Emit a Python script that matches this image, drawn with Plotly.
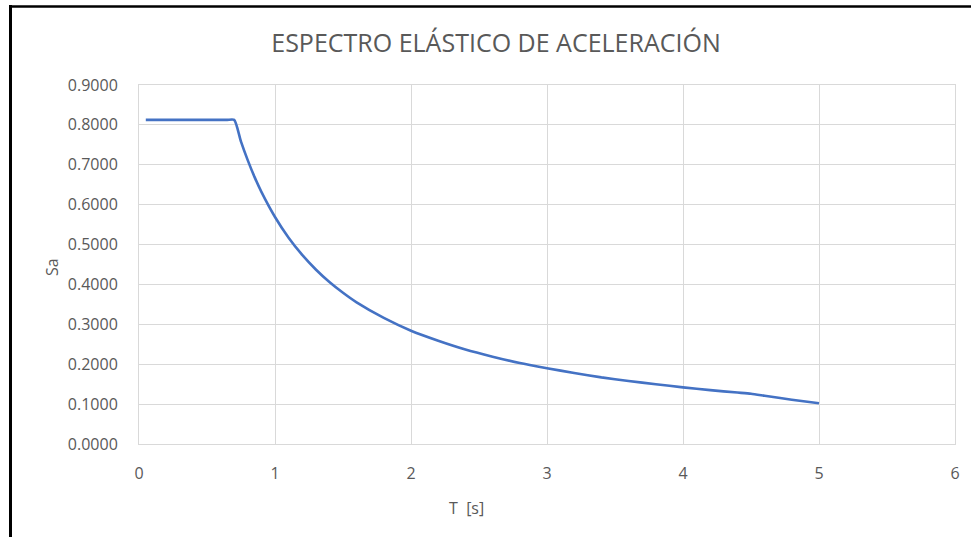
import plotly.graph_objects as go

T_s = [0.05, 0.1, 0.2, 0.3, 0.4, 0.5, 0.6, 0.65, 0.7, 0.75, 0.8, 0.85, 0.9, 1.0, 1.1, 1.2, 1.3,
       1.4, 1.5, 1.6, 1.8, 2.0, 2.2, 2.4, 2.6, 2.8, 3.0, 3.2, 3.4, 3.6, 3.8, 4.0, 4.2, 4.4,
       4.5, 4.6, 4.8, 5.0]
Sa = [0.8125, 0.8125, 0.8125, 0.8125, 0.8125, 0.8125, 0.8125, 0.8125, 0.8125, 0.758, 0.711,
      0.669, 0.632, 0.569, 0.517, 0.474, 0.4375, 0.406, 0.379, 0.355, 0.316, 0.284, 0.259,
      0.237, 0.219, 0.203, 0.190, 0.178, 0.167, 0.158, 0.150, 0.142, 0.135, 0.129, 0.126,
      0.121, 0.111, 0.102]

title_text = "ESPECTRO ELÁSTICO DE ACELERACIÓN"
x_title = "T  [s]"
y_title = "Sa"
x_ticks = [0, 1, 2, 3, 4, 5, 6]
y_ticks = [0.0, 0.1, 0.2, 0.3, 0.4, 0.5, 0.6, 0.7, 0.8, 0.9]

FONT = "Open Sans, Liberation Sans, sans-serif"
GREY = "#595959"
GRID = "#d9d9d9"

fig = go.Figure()
fig.add_trace(go.Scatter(
    x=T_s, y=Sa, mode="lines",
    line=dict(color="#4472C4", width=2.6, shape="spline", smoothing=0.6),
    hoverinfo="x+y", showlegend=False,
))

W, H = 971, 537
L, R, TOP, B = 139, 16, 85, 93
pw, ph = W - L - R, H - TOP - B

def px_to_paper_x(px):
    return (px - L) / pw

def px_to_paper_y(py):
    return (H - B - py) / ph

fig.update_layout(
    width=W, height=H,
    margin=dict(l=L, r=R, t=TOP, b=B, pad=0),
    paper_bgcolor="white", plot_bgcolor="white",
    font=dict(family=FONT, color=GREY),
    title=dict(text=title_text, x=496 / W, xref="container", xanchor="center",
               y=1 - 43 / H, yref="container", yanchor="middle",
               font=dict(size=25, color=GREY, family=FONT)),
    xaxis=dict(range=[0, 6], tickvals=x_ticks, ticktext=[str(v) for v in x_ticks],
               showgrid=True, gridcolor=GRID, gridwidth=1, zeroline=False,
               showline=True, linecolor=GRID, linewidth=1, mirror=True,
               ticks="", ticklabelstandoff=15, tickfont=dict(size=16, color=GREY, family=FONT)),
    yaxis=dict(range=[0, 0.9], tickvals=y_ticks, ticktext=[f"{v:.4f}" for v in y_ticks],
               showgrid=True, gridcolor=GRID, gridwidth=1, zeroline=False,
               showline=True, linecolor=GRID, linewidth=1, mirror=True,
               ticks="", ticklabelstandoff=17, tickfont=dict(size=16, color=GREY, family=FONT)),
    annotations=[
        dict(text=x_title, xref="paper", yref="paper", x=px_to_paper_x(466), y=px_to_paper_y(508),
             xanchor="center", yanchor="middle", showarrow=False,
             font=dict(size=16, color=GREY, family=FONT)),
        dict(text=y_title, xref="paper", yref="paper", x=px_to_paper_x(52), y=px_to_paper_y(267),
             xanchor="center", yanchor="middle", showarrow=False, textangle=-90,
             font=dict(size=16, color=GREY, family=FONT)),
    ],
    shapes=[
        dict(type="line", xref="paper", yref="paper",
             x0=px_to_paper_x(10.5), x1=px_to_paper_x(10.5),
             y0=px_to_paper_y(5), y1=px_to_paper_y(540),
             line=dict(color="black", width=3)),
        dict(type="line", xref="paper", yref="paper",
             x0=px_to_paper_x(9), x1=px_to_paper_x(975),
             y0=px_to_paper_y(6.5), y1=px_to_paper_y(6.5),
             line=dict(color="black", width=2.5)),
    ],
)

fig.write_html("out.html", config={"displayModeBar": False},
               post_script="document.body.style.margin='0';document.body.style.overflow='hidden';")
